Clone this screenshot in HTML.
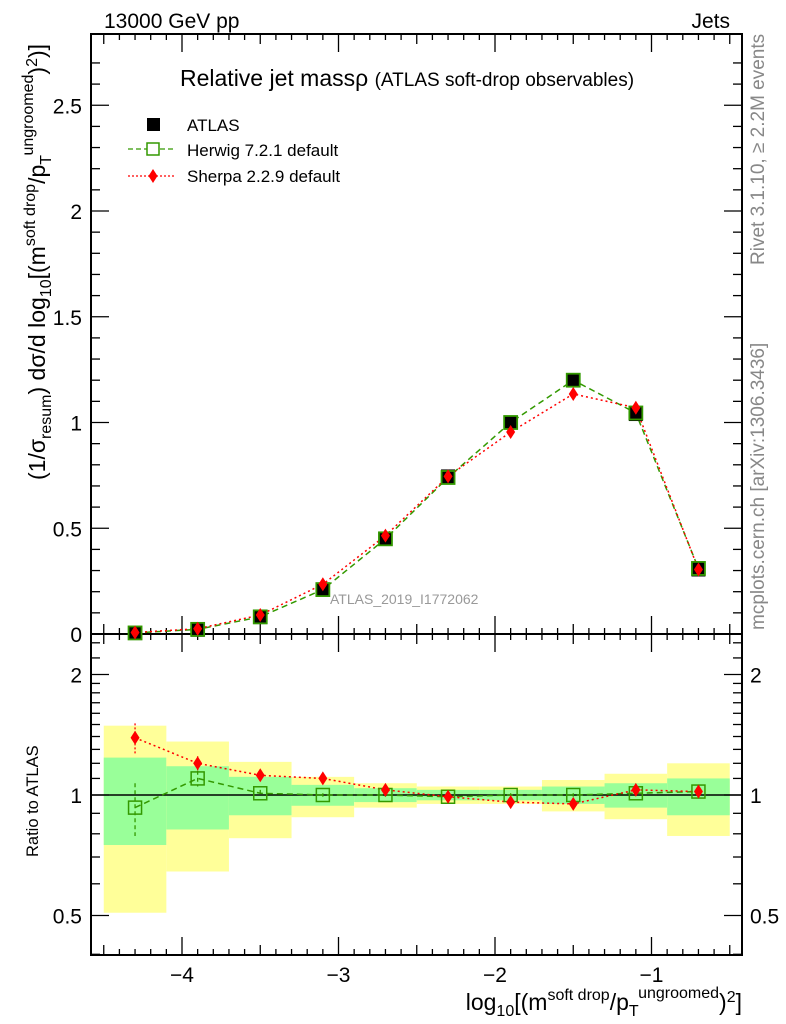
<!DOCTYPE html>
<html><head><meta charset="utf-8"><style>
html,body{margin:0;padding:0;background:#fff}
svg{display:block;font-family:"Liberation Sans",sans-serif}
</style></head><body>
<svg id="c" width="786" height="1024" viewBox="0 0 786 1024"></svg>
<script>
const xs=[-4.3,-3.9,-3.5,-3.1,-2.7,-2.3,-1.9,-1.5,-1.1,-0.7];
const edges=[-4.5,-4.1,-3.7,-3.3,-2.9,-2.5,-2.1,-1.7,-1.3,-0.9,-0.5];
const atlas=[0.005,0.02,0.08,0.21,0.45,0.745,1.0,1.2,1.04,0.305];
const herwig=[0.005,0.022,0.081,0.21,0.45,0.74,1.0,1.2,1.045,0.31];
const sherpa=[0.007,0.025,0.09,0.235,0.465,0.745,0.955,1.135,1.07,0.305];
const herwigRatio=[0.93,1.1,1.01,1.0,1.0,0.99,1.0,1.0,1.01,1.02];
const herwigRatioErr=[0.14,0.05,0.02,0.01,0.01,0.01,0.01,0.01,0.01,0.01];
const sherpaRatio=[1.39,1.2,1.12,1.10,1.03,0.99,0.96,0.95,1.03,1.02];
const sherpaRatioErr=[0.12,0.05,0.02,0.01,0.01,0.01,0.01,0.01,0.01,0.01];
const yelHi=[1.49,1.36,1.21,1.11,1.07,1.05,1.05,1.09,1.13,1.2];
const yelLo=[0.508,0.644,0.78,0.88,0.93,0.95,0.95,0.91,0.87,0.79];
const grnHi=[1.24,1.18,1.11,1.06,1.04,1.03,1.03,1.05,1.07,1.1];
const grnLo=[0.75,0.82,0.89,0.94,0.96,0.97,0.97,0.95,0.93,0.89];
const mainTicks=[0,0.5,1,1.5,2,2.5];
const mainTickLabels=["0","0.5","1","1.5","2","2.5"];
const xTicks=[-4,-3,-2,-1];
const xTickLabels=["\u22124","\u22123","\u22122","\u22121"];

const L=91,R=742,T=34,MB=634,RB=955;
const X=v=>182+(v+4)*156.5;
const Y=v=>634-v*211.5;
const YR=v=>795-Math.log2(v)*120.5;
const svg=document.getElementById('c');
const NS='http://www.w3.org/2000/svg';
function mk(t,a,p){const e=document.createElementNS(NS,t);for(const k in a)e.setAttribute(k,a[k]);(p||svg).appendChild(e);return e;}
function txt(s,a,p){const e=mk('text',a,p);e.textContent=s;return e;}

for(let i=0;i<xs.length;i++){
 const y=mk('rect',{x:X(edges[i]),y:YR(yelHi[i]),width:X(edges[i+1])-X(edges[i]),height:YR(yelLo[i])-YR(yelHi[i]),fill:'#ffff99'});
 
 
 const g=mk('rect',{x:X(edges[i]),y:YR(grnHi[i]),width:X(edges[i+1])-X(edges[i]),height:YR(grnLo[i])-YR(grnHi[i]),fill:'#99ff99'});
 
 
}
mk('line',{x1:L,x2:R,y1:YR(1),y2:YR(1),stroke:'#000','stroke-width':1.5});

mk('rect',{x:L,y:T,width:R-L,height:MB-T,fill:'none',stroke:'#000','stroke-width':2});
mk('rect',{x:L,y:MB,width:R-L,height:RB-MB,fill:'none',stroke:'#000','stroke-width':2});

for(let v=-4.5;v<=-0.45;v+=0.1){
 const major=Math.abs(v-Math.round(v))<1e-6;
 const half=Math.abs(v*2-Math.round(v*2))<1e-6;
 const len=major?18:(half?10:6);
 const px=X(v);
 for(const [y0,d] of [[MB,-1],[T,1],[MB,1],[RB,-1]]){
  mk('line',{x1:px,x2:px,y1:y0,y2:y0+d*len,stroke:'#000','stroke-width':1.3});
 }
}
xTicks.forEach((v,i)=>{const t=txt(xTickLabels[i],{x:X(v),y:982,'font-size':21,'text-anchor':'middle'});
 });

for(let v=0;v<=2.8;v+=0.1){
 const major=Math.abs(v*2-Math.round(v*2))<1e-6;const len=major?18:9;
 mk('line',{x1:L,x2:L+len,y1:Y(v),y2:Y(v),stroke:'#000','stroke-width':1.3});
 mk('line',{x1:R,x2:R-len,y1:Y(v),y2:Y(v),stroke:'#000','stroke-width':1.3});
}
mainTicks.forEach((v,i)=>{const t=txt(mainTickLabels[i],{x:82,y:Y(v)+8,'font-size':21,'text-anchor':'end'});
 });

const rt=[0.4,0.5,0.6,0.7,0.8,0.9,1,1.1,1.2,1.3,1.4,1.5,1.6,1.7,1.8,1.9,2,2.2,2.4];
rt.forEach(v=>{const major=[0.5,1,2].includes(v);const len=major?18:9;
 mk('line',{x1:L,x2:L+len,y1:YR(v),y2:YR(v),stroke:'#000','stroke-width':1.3});
 mk('line',{x1:R,x2:R-len,y1:YR(v),y2:YR(v),stroke:'#000','stroke-width':1.3});});
[[0.5,"0.5"],[1,"1"],[2,"2"]].forEach(([v,s])=>{
 txt(s,{x:82,y:YR(v)+8,'font-size':21,'text-anchor':'end'});
 txt(s,{x:750,y:YR(v)+8,'font-size':21});
});

function poly(vals,f,col,dash,name){const p=mk('polyline',{points:xs.map((x,i)=>X(x)+','+f(vals[i])).join(' '),fill:'none',stroke:col,'stroke-width':1.5,'stroke-dasharray':dash});
 }
poly(herwig,Y,'#339900','6,4','herwig-line');
poly(sherpa,Y,'#ff0000','2,3','sherpa-line');
xs.forEach((x,i)=>{
 const a=mk('rect',{x:X(x)-7,y:Y(atlas[i])-7,width:14,height:14,fill:'#000'});
 
 const h=mk('rect',{x:X(x)-6.5,y:Y(herwig[i])-6.5,width:13,height:13,fill:'none',stroke:'#339900','stroke-width':1.8});
 
 const cx=X(x),cy=Y(sherpa[i]);
 const s=mk('polygon',{points:`${cx},${cy-7} ${cx+4.5},${cy} ${cx},${cy+7} ${cx-4.5},${cy}`,fill:'#ff0000'});
 
});

poly(herwigRatio,YR,'#339900','6,4','herwig-ratio-line');
poly(sherpaRatio,YR,'#ff0000','2,3','sherpa-ratio-line');
xs.forEach((x,i)=>{
 const cx=X(x);
 mk('line',{x1:cx,x2:cx,y1:YR(herwigRatio[i]+herwigRatioErr[i]),y2:YR(herwigRatio[i]-herwigRatioErr[i]),stroke:'#339900','stroke-width':1.3,'stroke-dasharray':'4,3'});
 mk('line',{x1:cx,x2:cx,y1:YR(sherpaRatio[i]+sherpaRatioErr[i]),y2:YR(sherpaRatio[i]-sherpaRatioErr[i]),stroke:'#ff0000','stroke-width':1.3,'stroke-dasharray':'2,2'});
 const h=mk('rect',{x:cx-6.5,y:YR(herwigRatio[i])-6.5,width:13,height:13,fill:'none',stroke:'#339900','stroke-width':1.5});
 
 const cy=YR(sherpaRatio[i]);
 const s=mk('polygon',{points:`${cx},${cy-7} ${cx+4.5},${cy} ${cx},${cy+7} ${cx-4.5},${cy}`,fill:'#ff0000'});
 
});
</script>
<svg width="786" height="1024" style="position:absolute;left:0;top:0">
<text x="104" y="28" font-size="21">13000 GeV pp</text>
<text x="730" y="28" font-size="21" text-anchor="end">Jets</text>
<text x="180" y="86" font-size="23">Relative jet massρ <tspan font-size="19">(ATLAS soft-drop observables)</tspan></text>
<g>
<rect x="147" y="118" width="13" height="13" fill="#000"/>
<text x="187" y="131" font-size="17">ATLAS</text>
<line x1="128" x2="175" y1="149" y2="149" stroke="#339900" stroke-dasharray="5,3" stroke-width="1.3"/>
<rect x="147" y="143" width="12" height="12" fill="#fff" stroke="#339900" stroke-width="1.5"/>
<text x="187" y="156" font-size="17">Herwig 7.2.1 default</text>
<line x1="128" x2="175" y1="176" y2="176" stroke="#f00" stroke-dasharray="2,2" stroke-width="1.3"/>
<polygon points="153,169 157.5,176 153,183 148.5,176" fill="#f00"/>
<text x="187" y="182" font-size="17">Sherpa 2.2.9 default</text>
</g>
<text x="330" y="604" font-size="14" fill="#999">ATLAS_2019_I1772062</text>
<text transform="translate(764,265) rotate(-90)" font-size="19" fill="#888">Rivet 3.1.10, ≥ 2.2M events</text>
<text transform="translate(764,630) rotate(-90)" font-size="19" fill="#888">mcplots.cern.ch [arXiv:1306.3436]</text>
<text transform="translate(45,480) rotate(-90)" font-size="23">(1/σ<tspan font-size="16" dy="6">resum</tspan><tspan dy="-6">) dσ/d log</tspan><tspan font-size="16" dy="6">10</tspan><tspan dy="-6">[(m</tspan><tspan font-size="16" dy="-10">soft drop</tspan><tspan dy="10">/p</tspan><tspan font-size="16" dy="6">T</tspan><tspan font-size="16" dy="-18">ungroomed</tspan><tspan dy="12">)</tspan><tspan font-size="16" dy="-8">2</tspan><tspan dy="8">)]</tspan></text>
<text transform="translate(38,857) rotate(-90)" font-size="16.5">Ratio to ATLAS</text>
<text x="742" y="1010" font-size="23" text-anchor="end">log<tspan font-size="16" dy="6">10</tspan><tspan dy="-6">[(m</tspan><tspan font-size="16" dy="-10">soft drop</tspan><tspan dy="10">/p</tspan><tspan font-size="16" dy="6">T</tspan><tspan font-size="16" dy="-18">ungroomed</tspan><tspan dy="12">)</tspan><tspan font-size="16" dy="-8">2</tspan><tspan dy="8">]</tspan></text>
</svg>
</body></html>
